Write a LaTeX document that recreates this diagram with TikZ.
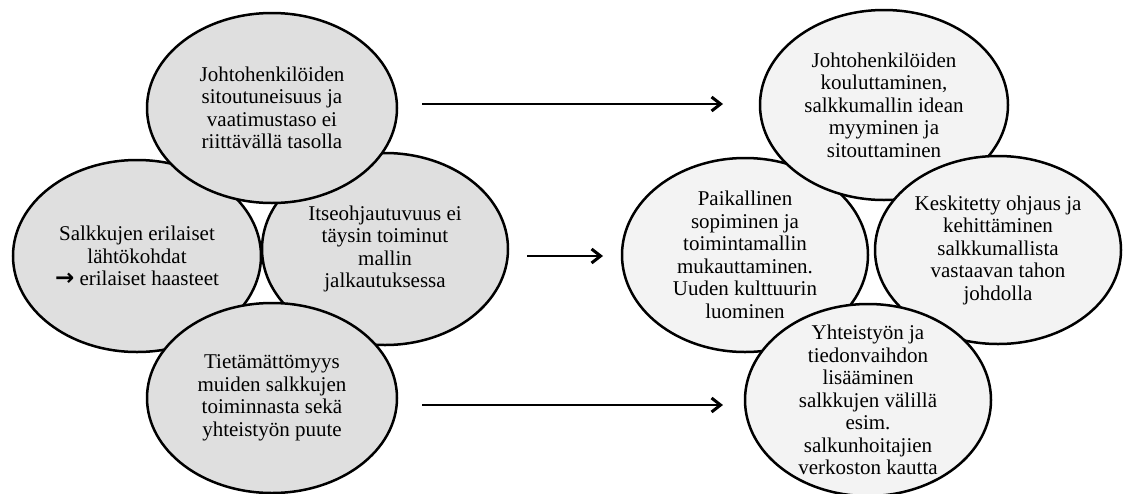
\documentclass[tikz,border=0pt]{standalone}
\usepackage{fontspec}
\setmainfont{Liberation Serif}
\newfontfamily\arrowglyph{DejaVu Sans}
\usetikzlibrary{arrows.meta,shapes.geometric}

\definecolor{leftfill}{RGB}{223,223,223}
\definecolor{rightfill}{RGB}{243,243,243}

\begin{document}
\begin{tikzpicture}[x=1pt,y=-1pt,
  bubble/.style={ellipse, draw=black, line width=2.5pt, inner sep=0pt},
  problem/.style={bubble, fill=leftfill},
  remedy/.style={bubble, fill=rightfill},
  txt/.style={align=center, inner sep=0pt, text=black,
    font=\fontsize{21}{22.5}\selectfont},
  flow/.style={line width=2.6pt,
    -{Straight Barb[length=9pt,width=14pt,line width=3pt]}}
]
\useasboundingbox (0,0) rectangle (1127,493);

% problems (left cluster)
\node[problem, minimum width=248pt, minimum height=192pt] (l2) at (137,256) {};
\node[txt] (l2t) at (l2.center) {Salkkujen erilaiset\\lähtökohdat\\{\arrowglyph\bfseries\fontsize{23}{22.5}\selectfont →} erilaiset haasteet};
\node[problem, minimum width=246pt, minimum height=192pt] (l3) at (385,249) {};
\node[txt] (l3t) at (l3.center) {Itseohjautuvuus ei\\täysin toiminut\\mallin\\jalkautuksessa};
\node[problem, minimum width=250pt, minimum height=190pt] (l1) at (272,108) {};
\node[txt] (l1t) at (l1.center) {Johtohenkilöiden\\sitoutuneisuus ja\\vaatimustaso ei\\riittävällä tasolla};
\node[problem, minimum width=250pt, minimum height=190pt] (l4) at (272,398) {};
\node[txt] (l4t) at (l4.center) {Tietämättömyys\\muiden salkkujen\\toiminnasta sekä\\yhteistyön puute};

% remedies (right cluster)
\node[remedy, minimum width=246pt, minimum height=194pt] (r2) at (745,255) {};
\node[txt] (r2t) at (r2.center) {Paikallinen\\sopiminen ja\\toimintamallin\\mukauttaminen.\\Uuden kulttuurin\\luominen};
\node[remedy, minimum width=248pt, minimum height=190pt] (r1) at (884,105) {};
\node[txt] (r1t) at (r1.center) {Johtohenkilöiden\\kouluttaminen,\\salkkumallin idean\\myyminen ja\\sitouttaminen};
\node[remedy, minimum width=246pt, minimum height=188pt] (r3) at (998,250) {};
\node[txt] (r3t) at (r3.center) {Keskitetty ohjaus ja\\kehittäminen\\salkkumallista\\vastaavan tahon\\johdolla};
\node[remedy, minimum width=246pt, minimum height=192pt] (r4) at (868,400) {};
\node[txt] (r4t) at (r4.center) {Yhteistyön ja\\tiedonvaihdon\\lisääminen\\salkkujen välillä\\esim.\\salkunhoitajien\\verkoston kautta};

% arrows between the clusters
\coordinate (a1s) at (422,104);
\coordinate (a1e) at (723,104);
\coordinate (a2s) at (527,256);
\coordinate (a2e) at (603,256);
\coordinate (a3s) at (422,405);
\coordinate (a3e) at (723,405);
\draw[flow] (a1s) -- (a1e);
\draw[flow] (a2s) -- (a2e);
\draw[flow] (a3s) -- (a3e);
\end{tikzpicture}
\end{document}
